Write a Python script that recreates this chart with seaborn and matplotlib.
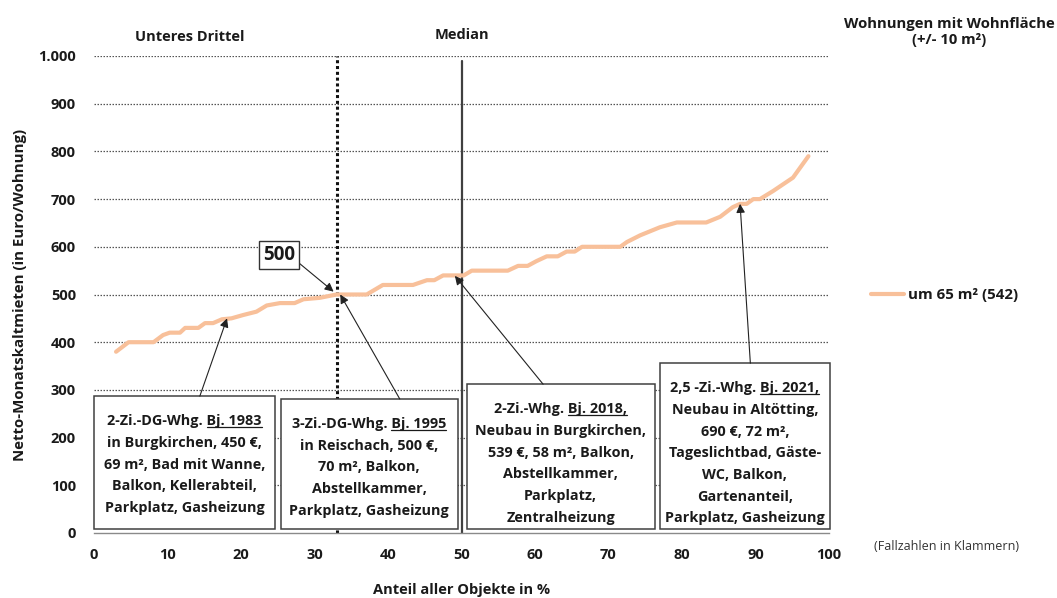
import matplotlib
matplotlib.use("Agg")
import matplotlib.pyplot as plt
import matplotlib.transforms as mtransforms
from matplotlib.patches import Rectangle
from matplotlib.lines import Line2D
from matplotlib.ticker import FuncFormatter
import seaborn as sns
import pandas as pd

# Share of all listings (%) and net monthly rent (EUR) for flats around 65 m²
pct = [3.0, 4.7, 8.1, 9.4, 10.3, 11.7, 12.4, 14.2, 15.1, 16.2, 17.4, 18.7, 20.3,
       22.1, 23.5, 25.3, 27.3, 28.5, 30.7, 33.0, 37.1, 39.3, 43.4, 45.3, 46.3,
       47.5, 49.3, 50.3, 51.4, 56.3, 57.7, 59.0, 60.2, 61.6, 63.1, 64.3, 65.4,
       66.4, 71.6, 72.5, 74.3, 77.0, 79.3, 83.3, 85.2, 86.9, 87.9, 88.8, 89.7,
       90.6, 92.4, 95.1, 97.2]
rent = [380, 400, 400, 415, 420, 420, 430, 430, 440, 440, 448, 450, 457,
        464, 477, 482, 482, 490, 493, 500, 500, 520, 520, 530, 530,
        540, 540, 540, 550, 550, 560, 560, 570, 580, 580, 590, 590,
        600, 600, 610, 624, 641, 651, 651, 663, 683, 690, 690, 700,
        700, 717, 745, 790]
series_label = "um 65 m² (542)"
legend_title = "Wohnungen mit Wohnfläche\n(+/- 10 m²)"

lower_third = 33
median = 50
third_value = 500

x_ticks = [0, 10, 20, 30, 40, 50, 60, 70, 80, 90, 100]
y_ticks = [0, 100, 200, 300, 400, 500, 600, 700, 800, 900, 1000]

# Example listings: (text lines, underlined tail of first line, target point)
examples = [
    (["2-Zi.-DG-Whg. Bj. 1983", "in Burgkirchen, 450 €,", "69 m², Bad mit Wanne,",
      "Balkon, Kellerabteil,", "Parkplatz, Gasheizung"], "Bj. 1983", (18.1, 450)),
    (["3-Zi.-DG-Whg. Bj. 1995", "in Reischach, 500 €,", "70 m², Balkon,",
      "Abstellkammer,", "Parkplatz, Gasheizung"], "Bj. 1995", (33.5, 500)),
    (["2-Zi.-Whg. Bj. 2018,", "Neubau in Burgkirchen,", "539 €, 58 m², Balkon,",
      "Abstellkammer,", "Parkplatz,", "Zentralheizung"], "Bj. 2018,", (49.1, 539)),
    (["2,5 -Zi.-Whg. Bj. 2021,", "Neubau in Altötting,", "690 €, 72 m²,",
      "Tageslichtbad, Gäste-", "WC, Balkon,", "Gartenanteil,",
      "Parkplatz, Gasheizung"], "Bj. 2021,", (87.9, 690)),
]
# box extents in data units: x0, x1, top, and arrow tail (x, y)
box_geom = [
    (0.0, 24.6, 287, (14.4, 287)),
    (25.4, 49.5, 281, (41.6, 281)),
    (50.7, 76.3, 312, (61.1, 312)),
    (77.0, 100.1, 356, (89.3, 356)),
]
box_bottom = 8

sns.set_theme(style="white")
FONT = ["Open Sans", "DejaVu Sans"]
plt.rcParams["font.family"] = FONT
plt.rcParams["font.weight"] = "bold"
TXT = "#1a1a1a"
FS = 10.5
FS_BOX = 10.4

fig = plt.figure(figsize=(10.57, 5.98), dpi=100)
ax = fig.add_axes([94 / 1057, 1 - 533 / 598, (829 - 94) / 1057, (533 - 56) / 598])

df = pd.DataFrame({"pct": pct, "rent": rent})
sns.lineplot(data=df, x="pct", y="rent", ax=ax, color="#F8C09A", lw=3.0,
             label=series_label, solid_capstyle="round", zorder=4)

ax.set_xlim(0, 100)
ax.set_ylim(0, 1000)
ax.set_xticks(x_ticks)
ax.set_yticks(y_ticks)
ax.yaxis.set_major_formatter(FuncFormatter(lambda v, p: f"{int(v):,}".replace(",", ".")))

for s in ["left", "right", "top"]:
    ax.spines[s].set_visible(False)
ax.spines["bottom"].set_color("#8a8a8a")
ax.spines["bottom"].set_linewidth(1.0)
ax.tick_params(axis="x", direction="out", length=5, width=1, color="#8a8a8a",
               pad=6, labelsize=10.5, labelcolor=TXT)
ax.tick_params(axis="y", length=0, pad=13, labelsize=10.5, labelcolor=TXT)

# dotted horizontal grid
for v in y_ticks[1:]:
    ax.axhline(v, color="#555555", lw=0.9, ls=(0, (1.2, 1.2)), zorder=1)

# lower third and median markers
ax.axvline(lower_third, ymin=0, ymax=1, color="#111111", lw=2.2, ls=(0, (1, 0.9)), zorder=2)
ax.axvline(median, ymin=0, ymax=0.99, color="#404040", lw=1.6, zorder=2)
ax.text(13, 1040, "Unteres Drittel", ha="center", va="center", fontsize=FS,
        color=TXT, fontweight="bold")
ax.text(median, 1045, "Median", ha="center", va="center", fontsize=FS,
        color=TXT, fontweight="bold")

ax.set_xlabel("Anteil aller Objekte in %", fontsize=FS, color=TXT,
              fontweight="bold", labelpad=15)
ax.set_ylabel("Netto-Monatskaltmieten (in Euro/Wohnung)", fontsize=10.8,
              color=TXT, fontweight="bold", labelpad=8)

# legend on the right
leg = ax.legend(loc="center left", bbox_to_anchor=(871 / 1057, 1 - 295 / 598),
                bbox_transform=fig.transFigure, frameon=False, handlelength=2.2,
                handletextpad=0.25, borderaxespad=0, borderpad=0,
                prop={"family": FONT, "weight": "bold", "size": 10.8})
for t in leg.get_texts():
    t.set_color(TXT)
fig.text(949 / 1057, 1 - 32 / 598, legend_title, ha="center", va="center",
         fontsize=10.7, fontweight="bold", color=TXT, linespacing=1.25)
fig.text(947 / 1057, 1 - 547 / 598, "(Fallzahlen in Klammern)", ha="center",
         va="center", fontsize=9, fontweight="normal", color="#333333")

# value label for the lower third
ax.annotate(f"{third_value}", xy=(32.6, third_value + 6), xytext=(25.2, 583),
            ha="center", va="center", fontsize=13.5, fontweight="bold", color=TXT,
            bbox=dict(boxstyle="square,pad=0.2", fc="white", ec="#333333", lw=1.0),
            arrowprops=dict(arrowstyle="-|>", color="#222222", lw=0.8,
                            mutation_scale=13, shrinkA=0, shrinkB=0,
                            relpos=(1.0, 0.25)),
            zorder=6)

# example listing boxes
line_gap = 21.7
first_base = 29
text_objs = []
for (lines, under, target), (x0, x1, top, tail) in zip(examples, box_geom):
    ax.add_patch(Rectangle((x0, box_bottom), x1 - x0, top - box_bottom, fc="white",
                           ec="#404040", lw=1.1, zorder=5, clip_on=False))
    ax.annotate("", xy=target, xytext=tail,
                arrowprops=dict(arrowstyle="-|>", color="#222222", lw=0.8,
                                mutation_scale=13, shrinkA=0, shrinkB=0),
                zorder=6)
    xc = (x0 + x1) / 2
    for i, ln in enumerate(lines):
        tr = mtransforms.offset_copy(ax.transData, fig=fig, x=0,
                                     y=-(first_base + i * line_gap), units="dots")
        t = ax.text(xc, top, ln, transform=tr, ha="center", va="baseline",
                    fontsize=FS_BOX, fontweight="bold", color=TXT, zorder=7,
                    clip_on=False)
        if i == 0:
            text_objs.append((t, under, tr, xc, top))

# underline the construction year in each box heading
fig.canvas.draw()
renderer = fig.canvas.get_renderer()
for t, under, tr, xc, top in text_objs:
    bb = t.get_window_extent(renderer)
    probe = fig.text(0, 0, under, fontsize=FS_BOX, fontweight="bold")
    w = probe.get_window_extent(renderer).width
    probe.remove()
    base_y = tr.transform((xc, top))[1]
    p0 = fig.transFigure.inverted().transform((bb.x1 - w, base_y - 2))
    p1 = fig.transFigure.inverted().transform((bb.x1, base_y - 2))
    fig.add_artist(Line2D([p0[0], p1[0]], [p0[1], p1[1]], color=TXT, lw=0.9,
                          zorder=8))

fig.savefig("out.png", dpi=100)
